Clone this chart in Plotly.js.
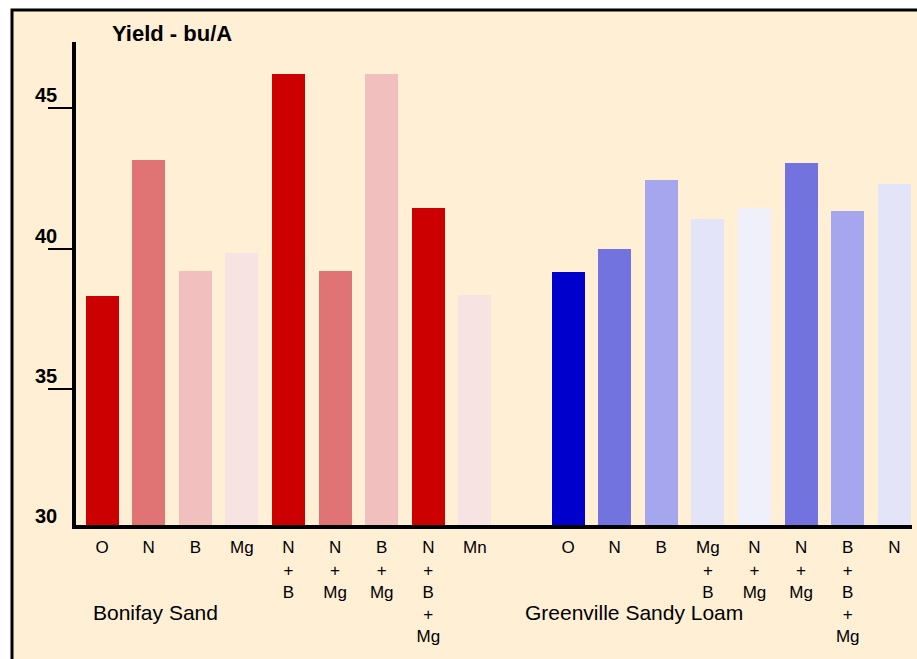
<!DOCTYPE html>
<html>
<head>
<meta charset="utf-8">
<script src="https://cdn.plot.ly/plotly-3.0.1.min.js"></script>
<style>html,body{margin:0;padding:0;background:#fff;}</style>
</head>
<body>
<div id="chart" style="width:917px;height:659px;"></div>
<script>
// ---- data ----
const bonifayLabels = ["O", "N", "B", "Mg", "N<br>+<br>B", "N<br>+<br>Mg", "B<br>+<br>Mg", "N<br>+<br>B<br>+<br>Mg", "Mn"];
const bonifayYield  = [38.3, 43.15, 39.2, 39.85, 46.2, 39.2, 46.2, 41.45, 38.35];

const greenvilleLabels = ["O", "N", "B", "Mg<br>+<br>B", "N<br>+<br>Mg", "N<br>+<br>Mg", "B<br>+<br>B<br>+<br>Mg", "N"];
const greenvilleYield  = [39.15, 40.0, 42.45, 41.05, 41.45, 43.05, 41.35, 42.3];

const groupNames = ["Bonifay Sand", "Greenville Sandy Loam"];
const yTickValues = [30, 35, 40, 45];
const yAxisTitle = "Yield - bu/A";

// ---- styles ----
const bonifayColors = ["#CC0000", "#E07373", "#F2BFBF", "#F8E3E3", "#CC0000", "#E07373", "#F2BFBF", "#CC0000", "#F8E3E3"];
const greenvilleColors = ["#0000CC", "#7373E0", "#A6A6EE", "#E4E4F8", "#F0F0FA", "#7373E0", "#A6A6EE", "#E4E4F8"];

const bonifayX = bonifayLabels.map((_, i) => i);
const offset2 = bonifayLabels.length + 1;
const greenvilleX = greenvilleLabels.map((_, i) => i + offset2);

const traces = [
  {type: "bar", x: bonifayX, y: bonifayYield, width: 0.71,
   marker: {color: bonifayColors, line: {width: 0}}, hoverinfo: "y", showlegend: false},
  {type: "bar", x: greenvilleX, y: greenvilleYield, width: 0.71,
   marker: {color: greenvilleColors, line: {width: 0}}, hoverinfo: "y", showlegend: false}
];

const font = "Liberation Sans, Arial, sans-serif";
const L = 76, R = 5, T = 42, B = 134, W = 917, H = 659;
const pw = W - L - R, ph = H - T - B;
const px2x = p => (p - L) / pw;
const px2y = p => (H - B - p) / ph;
const yRange = [30.16, 47.35];
const val2paper = v => (v - yRange[0]) / (yRange[1] - yRange[0]);

const annotations = [];
yTickValues.forEach(v => annotations.push({
  xref: "paper", yref: "paper", x: 0, y: val2paper(v), xanchor: "right", yanchor: "middle",
  xshift: -17, yshift: 13, text: String(v), showarrow: false,
  font: {family: font, size: 20, color: "#000", weight: "bold"}
}));
annotations.push({xref: "paper", yref: "paper", x: px2x(110), y: px2y(33), xanchor: "left", yanchor: "middle",
  text: "<b>" + yAxisTitle + "</b>", showarrow: false, font: {family: font, size: 22, color: "#000"}});
annotations.push({xref: "paper", yref: "paper", x: px2x(91), y: px2y(612), xanchor: "left", yanchor: "middle",
  text: groupNames[0], showarrow: false, font: {family: font, size: 21, color: "#000"}});
annotations.push({xref: "paper", yref: "paper", x: px2x(523), y: px2y(612), xanchor: "left", yanchor: "middle",
  text: groupNames[1], showarrow: false, font: {family: font, size: 21, color: "#000"}});

const layout = {
  width: W, height: H,
  margin: {l: L, r: R, t: T, b: B, pad: 0},
  paper_bgcolor: "#FFFFFF",
  plot_bgcolor: "rgba(0,0,0,0)",
  font: {family: font, color: "#000"},
  bargap: 0,
  xaxis: {
    range: [-0.56, 17.38], tickmode: "array",
    tickvals: bonifayX.concat(greenvilleX),
    ticktext: bonifayLabels.concat(greenvilleLabels),
    ticks: "", showgrid: false, zeroline: false,
    showline: true, linecolor: "#000", linewidth: 4,
    ticklabelstandoff: 4,
    tickfont: {family: font, size: 17, color: "#000"}, fixedrange: true
  },
  yaxis: {
    range: yRange, tickmode: "array", tickvals: yTickValues.slice(1),
    showticklabels: false, ticks: "outside", ticklen: 24, tickwidth: 2, tickcolor: "#000",
    showgrid: false, zeroline: false,
    showline: true, linecolor: "#000", linewidth: 4, fixedrange: true
  },
  shapes: [
    {type: "rect", xref: "paper", yref: "paper", layer: "below",
     x0: px2x(12), x1: px2x(940), y0: px2y(680), y1: px2y(10),
     fillcolor: "#FFEFD5", line: {color: "#000", width: 3}}
  ],
  annotations: annotations
};

Plotly.newPlot("chart", traces, layout, {displayModeBar: false, staticPlot: true});
</script>
</body>
</html>
